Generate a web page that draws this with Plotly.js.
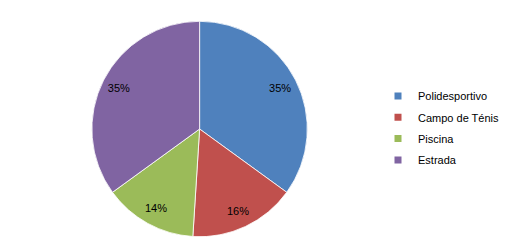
<!DOCTYPE html>
<html>
<head>
<meta charset="utf-8">
<script src="https://cdn.plot.ly/plotly-3.0.1.min.js"></script>
<style>html,body{margin:0;padding:0;background:#fff;}#chart{width:505px;height:251px;}</style>
</head>
<body>
<div id="chart"></div>
<script>
const categories = ["Polidesportivo", "Campo de Ténis", "Piscina", "Estrada"];
const values = [35, 16, 14, 35];
const colors = ["#4F81BD", "#C0504D", "#9BBB59", "#8064A2"];

const W = 505, H = 251;
const cx = 202, cy = 129, r = 109;
const dom = {
  x: [(cx - r) / W, (cx + r) / W],
  y: [(H - cy - r) / H, (H - cy + r) / H]
};
const fontFam = "Liberation Sans, Arial, sans-serif";

// Filled pie (slices)
const pieFill = {
  type: "pie",
  labels: categories,
  values: values,
  sort: false,
  direction: "clockwise",
  rotation: 0,
  marker: { colors: colors, line: { color: "#ffffff", width: 0.8 } },
  textinfo: "none",
  hoverinfo: "none",
  showlegend: false,
  domain: dom
};

// Transparent ring carrying the percentage labels near the rim
const pieText = {
  type: "pie",
  labels: categories,
  values: values,
  sort: false,
  direction: "clockwise",
  rotation: 0,
  hole: 0.68,
  marker: { colors: categories.map(() => "rgba(0,0,0,0)"), line: { width: 0 } },
  texttemplate: "%{percent:.0%}",
  textposition: "inside",
  insidetextorientation: "horizontal",
  textfont: { family: fontFam, size: 11, color: "#000000" },
  hoverinfo: "none",
  showlegend: false,
  domain: dom
};

// Legend entries
const legendTraces = categories.map((c, i) => ({
  type: "scatter",
  mode: "markers",
  x: [null], y: [null],
  name: c,
  legendgroup: "g" + i,
  marker: { symbol: "square", size: 7, color: colors[i] },
  hoverinfo: "none",
  showlegend: true
}));

const layout = {
  width: W, height: H,
  margin: { l: 0, r: 0, t: 0, b: 0 },
  paper_bgcolor: "#ffffff",
  plot_bgcolor: "rgba(0,0,0,0)",
  xaxis: { visible: false, fixedrange: true },
  yaxis: { visible: false, fixedrange: true },
  showlegend: true,
  legend: {
    x: 0.758, y: 1 - 128 / 251, xanchor: "left", yanchor: "middle",
    traceorder: "grouped",
    tracegroupgap: 2.3,
    font: { family: fontFam, size: 11, color: "#000000" },
    bgcolor: "rgba(0,0,0,0)"
  }
};

Plotly.newPlot("chart", [pieFill, pieText].concat(legendTraces), layout, { staticPlot: true, displayModeBar: false });
</script>
</body>
</html>
